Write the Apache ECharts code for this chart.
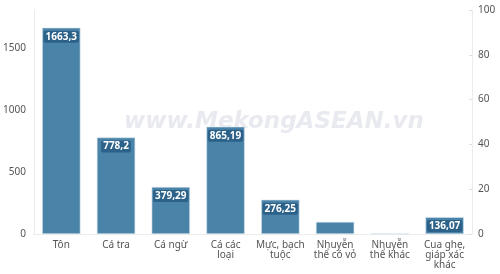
<!DOCTYPE html>
<html lang="vi">
<head>
    <meta charset="UTF-8">
    <script src="https://cdn.jsdelivr.net/npm/echarts@6/dist/echarts.min.js"></script>
    <title>Chart</title>
    <style>
        html, body { height: 100%; }
        * { padding: 0; margin: 0; }
    </style>
</head>
<body>
    <div id="chart" style="width: 500px;height: 274px;"></div>
    <script>
        // dữ liệu
        var categories = ['Tôn', 'Cá tra', 'Cá ngừ', 'Cá các\nloại', 'Mực, bạch\ntuộc', 'Nhuyễn\nthể có vỏ', 'Nhuyễn\nthể khác', 'Cua ghẹ,\ngiáp xác\nkhác'];
        var values = [1663.3, 778.2, 379.29, 865.19, 276.25, 98, 3, 136.07];
        var showLabel = [true, true, true, true, true, false, false, true];
        var leftTicks = [0, 500, 1000, 1500];
        var rightTicks = [0, 20, 40, 60, 80, 100];

        var font = 'Noto Sans';
        var chart = echarts.init(document.getElementById('chart'));

        var data = values.map(function (v, i) {
            return {
                value: v,
                label: { show: showLabel[i] }
            };
        });

        var option = {
            backgroundColor: '#ffffff',
            animation: false,
            grid: { left: 33, right: 28, top: 10, bottom: 40 },
            graphic: [{
                type: 'text',
                left: 124,
                top: 111,
                style: {
                    text: 'www.MekongASEAN.vn',
                    font: 'italic bold 23px "DejaVu Sans"',
                    fill: '#e8eaf0'
                },
                z: 0
            }],
            xAxis: {
                type: 'category',
                data: categories,
                axisLine: { lineStyle: { color: '#ececec' } },
                axisTick: { show: false },
                axisLabel: {
                    color: '#555',
                    fontFamily: font,
                    fontSize: 10,
                    lineHeight: 10,
                    margin: 6,
                    interval: 0
                }
            },
            yAxis: [{
                type: 'value',
                min: 0,
                max: 1806,
                interval: 500,
                splitLine: { show: false },
                axisLine: { show: true, lineStyle: { color: '#ececec' } },
                axisTick: { show: false },
                axisLabel: {
                    color: '#555',
                    fontFamily: font,
                    fontSize: 10,
                    margin: 8,
                    customValues: leftTicks,
                    formatter: function (v) { return String(v); }
                }
            }, {
                type: 'value',
                position: 'right',
                min: 0,
                max: 100,
                interval: 20,
                splitLine: { show: false },
                axisLine: { show: true, lineStyle: { color: '#ececec' } },
                axisTick: { show: true, inside: true, length: 3, lineStyle: { color: '#ddd' }, customValues: rightTicks },
                axisLabel: {
                    color: '#555',
                    fontFamily: font,
                    fontSize: 10,
                    margin: 6,
                    customValues: rightTicks
                }
            }],
            series: [{
                type: 'bar',
                data: data,
                barWidth: '70%',
                itemStyle: {
                    color: '#4a83a8',
                    borderColor: '#d6e4ee',
                    borderWidth: 0.6
                },
                label: {
                    position: 'insideTop',
                    distance: 3,
                    color: '#fff',
                    fontFamily: font,
                    fontWeight: 'bold',
                    fontSize: 10,
                    backgroundColor: '#2c6189',
                    borderRadius: 2,
                    padding: [1, 2],
                    formatter: function (p) {
                        return String(p.value).replace('.', ',');
                    }
                },
                z: 2
            }]
        };
        chart.setOption(option);
    </script>
</body>
</html>
